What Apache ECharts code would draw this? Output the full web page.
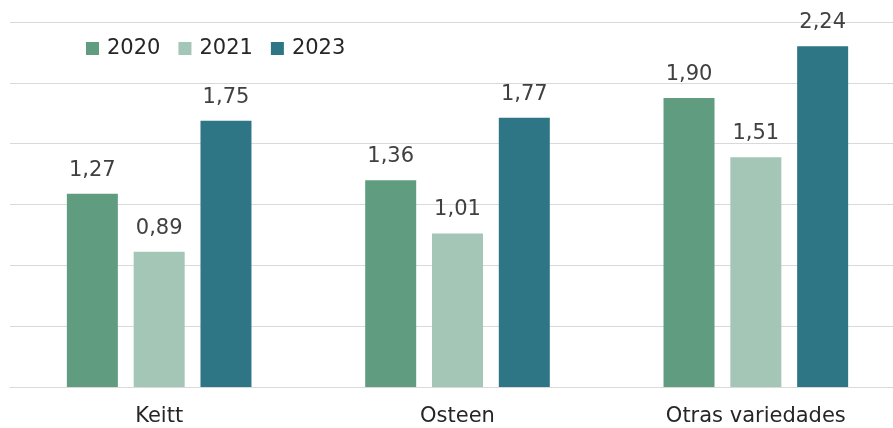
<!DOCTYPE html>
<html>
<head>
<meta charset="utf-8">
<script src="https://cdn.jsdelivr.net/npm/echarts@6/dist/echarts.min.js"></script>
<style>
  html, body { margin: 0; padding: 0; background: #fff; }
  #main { width: 893px; height: 428px; }
</style>
</head>
<body>
<div id="main"></div>
<script>
const categories = ["Keitt", "Osteen", "Otras variedades"];
const years = ["2020", "2021", "2023"];
const values2020 = [1.27, 1.36, 1.90];
const values2021 = [0.89, 1.01, 1.51];
const values2023 = [1.75, 1.77, 2.24];
const colors = ["#5F9C80", "#A3C6B6", "#2E7586"];

const fontFamily = "'DejaVu Sans', sans-serif";
const seriesData = [values2020, values2021, values2023];

const chart = echarts.init(document.getElementById("main"));
chart.setOption({
  animation: false,
  textStyle: { fontFamily: fontFamily },
  legend: {
    data: years,
    left: 81,
    top: 33,
    itemWidth: 13,
    itemHeight: 13,
    itemGap: 18,
    icon: "rect",
    textStyle: { fontSize: 21, color: "#262626", fontFamily: fontFamily, padding: [0, 0, 0, 3] }
  },
  grid: { left: 10, right: -12, top: 22, bottom: 41, outerBoundsMode: "none", containLabel: false },
  xAxis: {
    type: "category",
    data: categories,
    axisTick: { show: false },
    axisLine: { lineStyle: { color: "#d9d9d9", width: 1 } },
    axisLabel: { fontSize: 21, color: "#262626", margin: 19, fontFamily: fontFamily }
  },
  yAxis: {
    type: "value",
    min: 0,
    max: 2.4,
    interval: 0.4,
    axisLabel: { show: false },
    axisLine: { show: false },
    axisTick: { show: false },
    splitLine: { lineStyle: { color: "#d9d9d9", width: 1 } }
  },
  series: years.map((y, i) => ({
    name: y,
    type: "bar",
    data: seriesData[i],
    barWidth: 51,
    barGap: "31%",
    itemStyle: { color: colors[i] },
    label: {
      show: true,
      position: "top",
      distance: 13,
      fontSize: 21,
      color: "#404040",
      fontFamily: fontFamily,
      formatter: p => p.value.toFixed(2).replace(".", ",")
    }
  }))
});
</script>
</body>
</html>
